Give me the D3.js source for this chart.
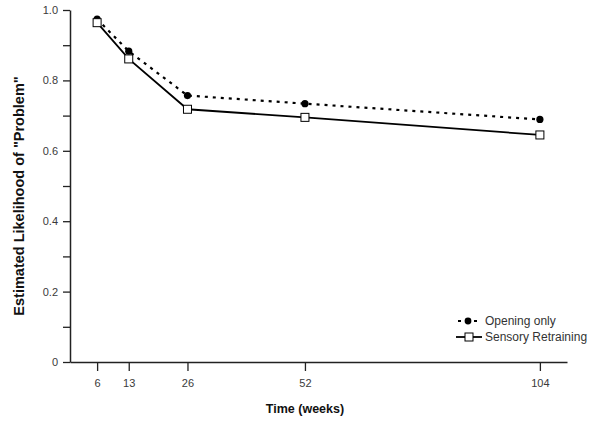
<!DOCTYPE html>
<html><head><meta charset="utf-8">
<script src="https://cdn.jsdelivr.net/npm/d3@7"></script>
<style>body{margin:0;background:#fff}svg{display:block;font-family:"Liberation Sans",Arial,sans-serif}</style>
</head><body><svg id="c" width="604" height="422"></svg>
<script>
const weeks = [6, 13, 26, 52, 104];
const openingOnly = [0.974, 0.883, 0.757, 0.734, 0.689];
const sensoryRetraining = [0.964, 0.861, 0.718, 0.695, 0.645];
const yTicks = [0, 0.2, 0.4, 0.6, 0.8, 1.0];
const yMinor = [0.1, 0.3, 0.5, 0.7, 0.9];
const seriesNames = ["Opening only", "Sensory Retraining"];

const svg = d3.select("#c");
const x = d3.scaleLinear().domain([0, 110]).range([70, 567]);
const y = d3.scaleLinear().domain([0, 1]).range([362, 10]);
const ink = "#222";

const xa = svg.append("g").attr("transform", `translate(0,${y(0)})`)
  .call(d3.axisBottom(x).tickValues(weeks).tickFormat(d3.format("d")).tickSize(9).tickPadding(8).tickSizeOuter(0));
const ya = svg.append("g").attr("transform", `translate(${x(0)},0)`)
  .call(d3.axisLeft(y).tickValues(yTicks).tickFormat(d => d === 0 ? "0" : d3.format(".1f")(d)).tickSize(7).tickPadding(5).tickSizeOuter(0));
const ym = svg.append("g").attr("transform", `translate(${x(0)},0)`)
  .call(d3.axisLeft(y).tickValues(yMinor).tickFormat("").tickSize(7).tickSizeOuter(0));
ym.select(".domain").remove();
[xa, ya, ym].forEach(g => {
  g.selectAll("path,line").attr("stroke", ink).attr("stroke-width", 1.3);
  g.selectAll("text").attr("fill", "#3a3a3a").attr("font-size", 11).attr("font-family", "Liberation Sans, Arial, sans-serif");
});
xa.select(".domain").attr("stroke-width", 1.5);
ya.select(".domain").attr("stroke-width", 1.5);

svg.append("text").attr("x", 305).attr("y", 413).attr("text-anchor", "middle")
  .attr("font-size", 12.5).attr("font-weight", "bold").attr("fill", "#111").text("Time (weeks)");
svg.append("text").attr("transform", `translate(24,196) rotate(-90)`).attr("text-anchor", "middle")
  .attr("font-size", 14.5).attr("font-weight", "bold").attr("fill", "#111").text("Estimated Likelihood of \"Problem\"");

const line = d3.line().x(d => x(d[0])).y(d => y(d[1]));
const d1 = weeks.map((w, i) => [w, openingOnly[i]]);
const d2 = weeks.map((w, i) => [w, sensoryRetraining[i]]);

svg.append("path").datum(d1).attr("d", line).attr("fill", "none").attr("stroke", "#000")
  .attr("stroke-width", 2.2).attr("stroke-dasharray", "3,5");
svg.append("path").datum(d2).attr("d", line).attr("fill", "none").attr("stroke", "#000")
  .attr("stroke-width", 1.8);

svg.selectAll("circle.pt").data(d1).join("circle").attr("class", "pt")
  .attr("cx", d => x(d[0])).attr("cy", d => y(d[1])).attr("r", 3.6).attr("fill", "#000");
svg.selectAll("rect.pt").data(d2).join("rect").attr("class", "pt")
  .attr("x", d => x(d[0]) - 4).attr("y", d => y(d[1]) - 4).attr("width", 8).attr("height", 8)
  .attr("fill", "#fff").attr("stroke", "#000").attr("stroke-width", 1);

const lg = svg.append("g");
const ly = [321, 337];
lg.append("line").attr("x1", 458).attr("x2", 482).attr("y1", ly[0]).attr("y2", ly[0])
  .attr("stroke", "#000").attr("stroke-width", 2.2).attr("stroke-dasharray", "3,5");
lg.append("circle").attr("cx", 468).attr("cy", ly[0]).attr("r", 3.4).attr("fill", "#000");
lg.append("line").attr("x1", 456).attr("x2", 482).attr("y1", ly[1]).attr("y2", ly[1])
  .attr("stroke", "#000").attr("stroke-width", 1.8);
lg.append("rect").attr("x", 465).attr("y", ly[1] - 4).attr("width", 8).attr("height", 8)
  .attr("fill", "#fff").attr("stroke", "#000").attr("stroke-width", 1);
lg.selectAll("text").data(seriesNames).join("text")
  .attr("x", 485).attr("y", (d, i) => ly[i] + 4).attr("font-size", 12).attr("fill", "#333").text(d => d);
</script></body></html>
